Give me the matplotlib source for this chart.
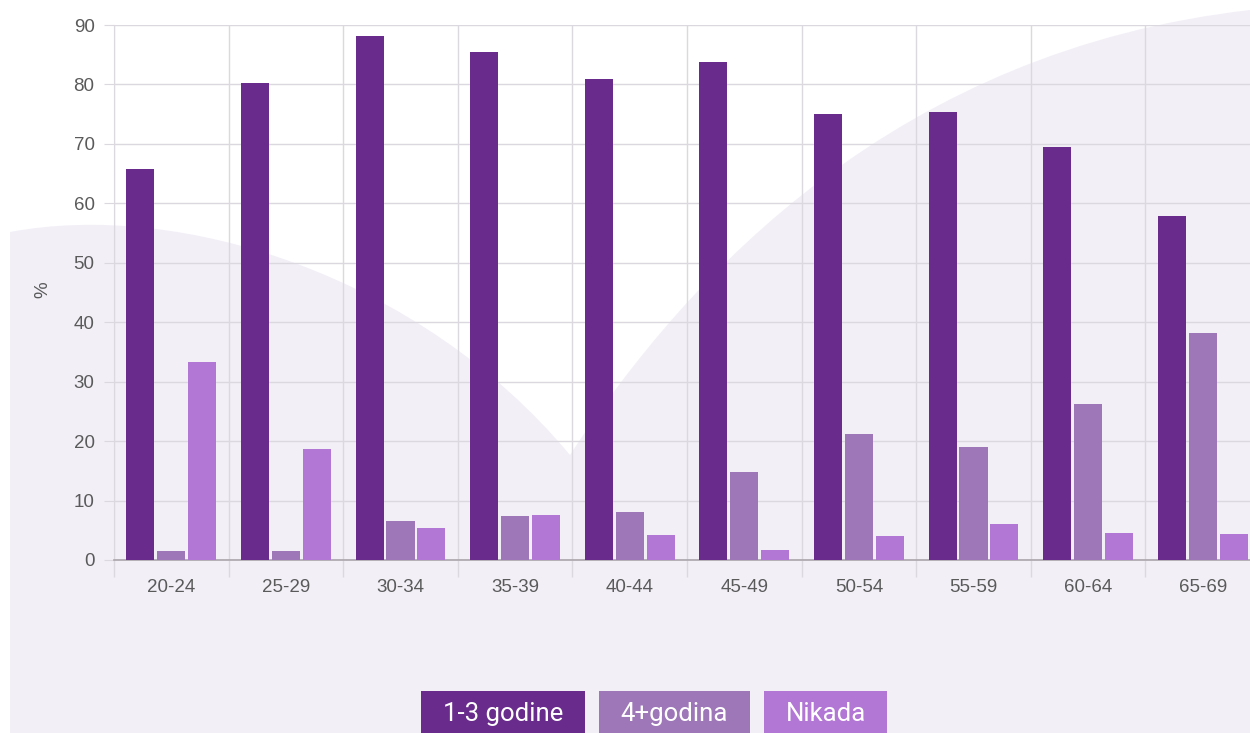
import numpy as np
import matplotlib.pyplot as plt
from matplotlib.patches import PathPatch, Rectangle
from matplotlib.path import Path

groups = ['20-24', '25-29', '30-34', '35-39', '40-44', '45-49', '50-54', '55-59', '60-64', '65-69']
series = ['1-3 godine', '4+godina', 'Nikada']
v_13 = [65.8, 80.2, 88.2, 85.4, 80.9, 83.7, 75.0, 75.3, 69.4, 57.8]
v_4p = [1.5, 1.5, 6.6, 7.4, 8.0, 14.8, 21.2, 19.0, 26.3, 38.2]
v_nik = [33.3, 18.6, 5.4, 7.6, 4.2, 1.7, 4.0, 6.0, 4.6, 4.3]
colors = ['#6a2c8c', '#9d77b7', '#b277d5']

W, H = 1250, 733
fig = plt.figure(figsize=(W / 100, H / 100), dpi=100)
fig.patch.set_facecolor('white')

def fc(x, y):
    return (x / W, 1 - y / H)

# decorative lavender background shape (smooth curves)
verts = [(10, 733), (10, 232),
         (180, 200), (420, 275), (570, 455),
         (690, 270), (900, 50), (1250, 10),
         (1250, 733), (10, 733)]
codes = [Path.MOVETO, Path.LINETO,
         Path.CURVE4, Path.CURVE4, Path.CURVE4,
         Path.CURVE4, Path.CURVE4, Path.CURVE4,
         Path.LINETO, Path.CLOSEPOLY]
fig.patches.append(PathPatch(Path([fc(x, y) for x, y in verts], codes), transform=fig.transFigure,
                             facecolor='#f3eff7', edgecolor='none', zorder=-10))

ax = fig.add_axes([114 / W, 1 - 560 / H, (1260 - 114) / W, (560 - 25) / H])
ax.patch.set_alpha(0)

x = np.arange(len(groups))
off = 0.27
bw = 0.245
for i, vals in enumerate([v_13, v_4p, v_nik]):
    ax.bar(x + (i - 1) * off, vals, bw, color=colors[i], zorder=3)

ax.set_xlim(-0.5, len(groups) - 0.5)
ax.set_ylim(0, 90)
ax.set_yticks(range(0, 91, 10))
ax.set_xticks(x)
ax.set_xticklabels(groups)
ax.set_xticks(np.arange(-0.5, len(groups), 1), minor=True)

gc = '#dcd8df'
ax.grid(axis='y', which='major', color=gc, lw=1, zorder=0)
ax.grid(axis='x', which='minor', color=gc, lw=1, zorder=0)
ax.grid(axis='x', which='major', visible=False)

for s in ['top', 'right']:
    ax.spines[s].set_visible(False)
ax.spines['left'].set_color(gc)
ax.spines['bottom'].set_color('#a9a5ab')
ax.spines['bottom'].set_linewidth(1.2)

ax.tick_params(axis='x', which='major', length=0, pad=14, labelcolor='#5a5a5a')
ax.tick_params(axis='x', which='minor', length=12, color=gc, width=1)
ax.tick_params(axis='y', length=7, color=gc, pad=7, labelcolor='#5a5a5a')
for lab in ax.get_xticklabels() + ax.get_yticklabels():
    lab.set_fontfamily(['Liberation Sans', 'DejaVu Sans'])
    lab.set_fontsize(13.5)

fig.text(43 / W, 1 - 290 / H, '%', rotation=90, ha='center', va='center',
         color='#5a5a5a', family=['Liberation Sans', 'DejaVu Sans'], fontsize=13.5)

# legend boxes
boxes = [(421, 585), (599, 750), (764, 887)]
for (x0, x1), name, c in zip(boxes, series, colors):
    fig.patches.append(Rectangle(fc(x0, 735), (x1 - x0) / W, (735 - 691) / H,
                                 transform=fig.transFigure, facecolor=c, edgecolor='none'))
    fig.text((x0 + x1) / 2 / W, 1 - 714 / H, name, ha='center', va='center', color='white',
             family=['Roboto', 'DejaVu Sans'], fontsize=18.5)

fig.savefig('out.png', dpi=100)
